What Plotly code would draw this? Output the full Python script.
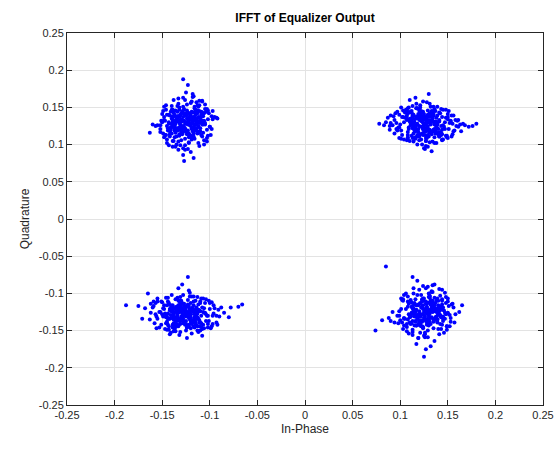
import plotly.graph_objects as go

# Cluster points
tl_x = [-0.125,-0.118,-0.131,-0.122,-0.136,-0.113,-0.127,-0.140,-0.109,-0.120,
-0.133,-0.116,-0.129,-0.124,-0.145,-0.105,-0.138,-0.111,-0.126,-0.119,
-0.132,-0.121,-0.128,-0.115,-0.142,-0.102,-0.135,-0.123,-0.130,-0.117,
-0.150,-0.098,-0.126,-0.139,-0.112,-0.124,-0.134,-0.107,-0.121,-0.146,
-0.128,-0.114,-0.137,-0.119,-0.131,-0.110,-0.125,-0.143,-0.104,-0.122,
-0.155,-0.095,-0.129,-0.116,-0.136,-0.120,-0.127,-0.141,-0.108,-0.133,
-0.118,-0.124,-0.148,-0.100,-0.130,-0.113,-0.139,-0.126,-0.121,-0.134,
-0.160,-0.092,-0.123,-0.117,-0.144,-0.106,-0.128,-0.132,-0.111,-0.137,
-0.125,-0.119,-0.152,-0.097,-0.135,-0.114,-0.129,-0.122,-0.140,-0.103,
-0.163,-0.118,-0.131,-0.126,-0.109,-0.147,-0.124,-0.099,-0.138,-0.115,
-0.127,-0.133,-0.120,-0.157,-0.108,-0.130,-0.116,-0.142,-0.123,-0.093,
-0.112,-0.136,-0.128,-0.119,-0.149,-0.105,-0.125,-0.132,-0.117,-0.140,
-0.113,-0.138,-0.111,-0.140,-0.117,-0.134,-0.118,-0.133,
-0.107,-0.142,-0.109,-0.144,-0.115,-0.136,-0.116,-0.135,
-0.122,-0.129,-0.120,-0.127,-0.105,-0.146,-0.106,-0.145,
-0.119,-0.130,-0.110,-0.141,-0.121,-0.112,
-0.139,-0.125,-0.123,-0.126,-0.114,-0.137,-0.124,-0.128,
-0.101,-0.150,-0.102,-0.147,-0.111,-0.140,-0.112,-0.139,
-0.118,-0.131,-0.123,-0.126,-0.115,-0.134,-0.108,-0.143,
-0.097,-0.152,-0.120,-0.131,-0.103,-0.148,-0.116,-0.133,
-0.121,-0.132,-0.117,-0.130,-0.109,-0.142,-0.108,-0.141,
-0.114,-0.135,-0.122,-0.127,-0.113,-0.137,-0.106,-0.145,-0.119,-0.132,
-0.120,-0.131,-0.114,-0.137,-0.116,-0.128,-0.123,-0.135,-0.112,-0.139,
-0.117,-0.132,-0.125,-0.124,-0.111,-0.139,-0.119,-0.131,-0.119,-0.130,
-0.115,-0.136,-0.113,-0.137,-0.122,-0.127,-0.121,-0.128,-0.109,-0.141,
-0.120,-0.129,-0.116,-0.134,-0.116,-0.133,-0.110,-0.140,-0.118,-0.132,
-0.124,-0.126,-0.118,-0.132,-0.107,-0.143,-0.113,-0.137,-0.122,-0.128,
-0.114,-0.136,-0.125,-0.125,-0.121,-0.138,-0.112,-0.129,-0.108,-0.142,
-0.105,-0.146,-0.106,-0.145,-0.102,-0.149,-0.103,-0.148,
-0.111,-0.138,-0.111,-0.139,-0.098,-0.152,-0.118,-0.133,
-0.108,-0.143,-0.103,-0.148,-0.100,-0.151,-0.123,-0.128]
tl_y = [0.128,0.135,0.120,0.142,0.131,0.115,0.148,0.124,0.138,0.110,
0.155,0.126,0.133,0.118,0.140,0.129,0.105,0.145,0.160,0.122,
0.137,0.112,0.151,0.127,0.119,0.134,0.100,0.143,0.125,0.165,
0.130,0.121,0.108,0.147,0.136,0.116,0.152,0.127,0.141,0.113,
0.095,0.132,0.123,0.158,0.139,0.118,0.170,0.128,0.144,0.103,
0.126,0.137,0.114,0.149,0.131,0.090,0.141,0.120,0.130,0.162,
0.109,0.146,0.133,0.124,0.117,0.153,0.138,0.099,0.129,0.144,
0.127,0.135,0.180,0.111,0.122,0.142,0.086,0.150,0.131,0.119,
0.139,0.107,0.126,0.145,0.134,0.157,0.121,0.102,0.128,0.148,
0.116,0.168,0.124,0.093,0.140,0.132,0.154,0.113,0.129,0.146,
0.078,0.122,0.137,0.125,0.159,0.106,0.143,0.118,0.131,0.136,
0.151,0.097,0.188,0.134,0.115,0.127,0.140,0.123,0.082,0.147,
0.142,0.143,0.116,0.115,0.137,0.136,0.118,0.121,
0.138,0.139,0.113,0.119,0.147,0.146,0.108,0.111,
0.133,0.131,0.125,0.123,0.148,0.147,0.106,0.107,
0.144,0.142,0.134,0.123,0.113,0.124,
0.132,0.130,0.127,0.128,0.131,0.126,0.140,0.117,
0.142,0.141,0.112,0.113,0.153,0.152,0.102,0.105,
0.130,0.127,0.135,0.120,0.120,0.138,0.127,0.130,
0.134,0.121,0.156,0.099,0.120,0.137,0.151,0.104,
0.137,0.132,0.123,0.119,0.144,0.111,0.111,0.144,
0.135,0.122,0.115,0.141,0.116,0.140,0.132,0.125,0.110,0.147,
0.139,0.140,0.122,0.123,0.132,0.137,0.119,0.131,0.137,0.136,
0.115,0.114,0.142,0.114,0.129,0.127,0.134,0.122,0.121,0.134,
0.140,0.116,0.118,0.138,0.131,0.132,0.126,0.125,0.133,0.122,
0.112,0.144,0.119,0.119,0.137,0.138,0.122,0.135,0.143,0.112,
0.135,0.122,0.128,0.129,0.116,0.140,0.146,0.110,0.110,0.146,
0.128,0.128,0.139,0.118,0.141,0.132,0.125,0.115,0.143,0.114,
0.154,0.153,0.100,0.102,0.146,0.145,0.109,0.110,
0.159,0.160,0.098,0.097,0.138,0.117,0.164,0.093,
0.158,0.099,0.104,0.151,0.124,0.132,0.094,0.163]

tr_x = [0.125,0.112,0.138,0.119,0.146,0.104,0.131,0.122,0.155,0.097,
0.128,0.116,0.141,0.133,0.109,0.150,0.124,0.092,0.136,0.118,
0.160,0.127,0.114,0.143,0.101,0.130,0.121,0.166,0.108,0.135,
0.126,0.087,0.148,0.117,0.139,0.123,0.153,0.105,0.132,0.113,
0.172,0.129,0.096,0.144,0.120,0.137,0.110,0.158,0.125,0.083,
0.134,0.115,0.147,0.128,0.099,0.141,0.119,0.163,0.106,0.131,
0.122,0.151,0.090,0.139,0.116,0.126,0.176,0.111,0.145,0.124,
0.133,0.078,0.156,0.118,0.137,0.103,0.129,0.149,0.114,0.168,
0.121,0.140,0.094,0.127,0.152,0.108,0.135,0.117,0.161,0.130,
0.085,0.143,0.123,0.112,0.157,0.136,0.100,0.128,0.147,0.119,
0.180,0.126,0.107,0.142,0.132,0.089,0.154,0.115,0.138,0.124,
0.098,0.150,0.120,0.134,0.111,0.164,0.129,0.102,0.145,0.117,
0.139,0.140,0.113,0.112,0.134,0.133,0.115,0.118,
0.135,0.136,0.110,0.116,0.144,0.143,0.105,0.108,
0.130,0.128,0.122,0.120,0.145,0.144,0.103,0.104,
0.141,0.139,0.131,0.120,0.110,0.121,
0.129,0.127,0.124,0.125,0.128,0.123,0.137,0.114,
0.139,0.138,0.109,0.110,0.150,0.149,0.099,0.102,
0.127,0.124,0.132,0.117,0.117,0.135,0.124,0.127,
0.131,0.118,0.153,0.096,0.117,0.134,0.148,0.101,
0.134,0.129,0.120,0.116,0.141,0.108,0.108,0.141,
0.132,0.119,0.112,0.138,0.113,0.137,0.129,0.122,0.107,0.144,
0.130,0.119,0.136,0.113,0.134,0.122,0.127,0.115,0.138,0.111,
0.133,0.118,0.125,0.126,0.139,0.111,0.131,0.119,0.131,0.120,
0.135,0.114,0.137,0.113,0.128,0.123,0.129,0.122,0.141,0.109,
0.130,0.121,0.134,0.116,0.134,0.117,0.140,0.110,0.132,0.118,
0.126,0.124,0.132,0.118,0.143,0.107,0.137,0.113,0.128,0.122,
0.136,0.114,0.125,0.125,0.129,0.112,0.138,0.121,0.142,0.108,
0.151,0.097,0.150,0.099,0.156,0.093,0.155,0.094,
0.143,0.108,0.144,0.107,0.161,0.089,0.135,0.114,
0.148,0.101,0.154,0.095,0.159,0.090,0.127,0.121]
tr_y = [0.127,0.133,0.121,0.138,0.124,0.130,0.116,0.142,0.128,0.119,
0.135,0.110,0.131,0.145,0.123,0.137,0.113,0.126,0.148,0.120,
0.132,0.105,0.139,0.125,0.150,0.118,0.134,0.128,0.108,0.141,
0.122,0.136,0.112,0.155,0.127,0.100,0.131,0.143,0.117,0.152,
0.124,0.138,0.129,0.114,0.146,0.120,0.160,0.133,0.095,0.126,
0.140,0.119,0.130,0.157,0.123,0.111,0.136,0.127,0.147,0.103,
0.132,0.121,0.139,0.115,0.163,0.129,0.125,0.144,0.107,0.134,
0.091,0.128,0.118,0.149,0.131,0.137,0.122,0.110,0.140,0.126,
0.153,0.116,0.133,0.098,0.129,0.142,0.120,0.135,0.124,0.168,
0.130,0.113,0.138,0.145,0.119,0.102,0.127,0.132,0.121,0.141,
0.128,0.094,0.136,0.117,0.151,0.125,0.139,0.109,0.130,0.158,
0.123,0.134,0.106,0.143,0.128,0.118,0.097,0.137,0.126,0.149,
0.139,0.114,0.141,0.112,0.135,0.118,0.134,0.119,
0.145,0.110,0.143,0.108,0.137,0.116,0.136,0.117,
0.130,0.123,0.132,0.125,0.147,0.106,0.146,0.107,
0.133,0.122,0.142,0.111,0.131,0.140,
0.113,0.127,0.129,0.126,0.138,0.115,0.128,0.124,
0.151,0.102,0.150,0.105,0.141,0.112,0.140,0.113,
0.134,0.121,0.129,0.126,0.137,0.118,0.144,0.109,
0.155,0.100,0.132,0.121,0.149,0.104,0.136,0.119,
0.131,0.120,0.135,0.122,0.143,0.110,0.144,0.111,
0.138,0.117,0.130,0.125,0.139,0.115,0.146,0.107,0.133,0.120,
0.138,0.139,0.121,0.122,0.131,0.136,0.118,0.130,0.136,0.135,
0.114,0.113,0.141,0.113,0.128,0.126,0.133,0.121,0.120,0.133,
0.139,0.115,0.117,0.137,0.130,0.131,0.125,0.124,0.132,0.121,
0.111,0.143,0.118,0.118,0.136,0.137,0.121,0.134,0.142,0.111,
0.134,0.121,0.127,0.128,0.115,0.139,0.145,0.109,0.109,0.145,
0.127,0.127,0.138,0.117,0.140,0.131,0.124,0.114,0.142,0.113,
0.145,0.144,0.109,0.109,0.139,0.138,0.114,0.115,
0.148,0.149,0.107,0.106,0.133,0.120,0.151,0.104,
0.147,0.108,0.111,0.142,0.125,0.129,0.105,0.150]

bl_x = [-0.127,-0.140,-0.114,-0.133,-0.120,-0.152,-0.103,-0.129,-0.145,-0.110,
-0.136,-0.124,-0.160,-0.096,-0.131,-0.118,-0.142,-0.107,-0.126,-0.148,
-0.113,-0.138,-0.122,-0.168,-0.090,-0.134,-0.117,-0.150,-0.101,-0.129,
-0.143,-0.111,-0.125,-0.156,-0.098,-0.137,-0.121,-0.132,-0.106,-0.146,
-0.119,-0.175,-0.085,-0.128,-0.141,-0.115,-0.135,-0.102,-0.153,-0.123,
-0.130,-0.109,-0.147,-0.126,-0.093,-0.139,-0.116,-0.162,-0.131,-0.104,
-0.122,-0.144,-0.112,-0.136,-0.078,-0.128,-0.151,-0.119,-0.133,-0.099,
-0.188,-0.125,-0.140,-0.108,-0.157,-0.121,-0.130,-0.095,-0.146,-0.117,
-0.134,-0.070,-0.127,-0.165,-0.113,-0.138,-0.124,-0.100,-0.149,-0.132,
-0.118,-0.143,-0.106,-0.129,-0.171,-0.088,-0.135,-0.120,-0.155,-0.111,
-0.126,-0.142,-0.097,-0.131,-0.116,-0.148,-0.123,-0.080,-0.137,-0.105,
-0.159,-0.128,-0.114,-0.145,-0.133,-0.092,-0.122,-0.139,-0.110,-0.066,
-0.139,-0.114,-0.141,-0.112,-0.135,-0.118,-0.134,-0.119,
-0.145,-0.110,-0.143,-0.108,-0.137,-0.116,-0.136,-0.117,
-0.130,-0.123,-0.132,-0.125,-0.147,-0.106,-0.146,-0.107,
-0.133,-0.122,-0.142,-0.111,-0.131,-0.140,
-0.113,-0.127,-0.129,-0.126,-0.138,-0.115,-0.128,-0.124,
-0.151,-0.102,-0.150,-0.105,-0.141,-0.112,-0.140,-0.113,
-0.134,-0.121,-0.129,-0.126,-0.137,-0.118,-0.144,-0.109,
-0.155,-0.100,-0.132,-0.121,-0.149,-0.104,-0.136,-0.119,
-0.131,-0.120,-0.135,-0.122,-0.143,-0.110,-0.144,-0.111,
-0.138,-0.117,-0.130,-0.125,-0.139,-0.115,-0.146,-0.107,-0.133,-0.120,
-0.122,-0.133,-0.116,-0.139,-0.118,-0.130,-0.125,-0.137,-0.114,-0.141,
-0.119,-0.134,-0.127,-0.126,-0.113,-0.141,-0.121,-0.133,-0.121,-0.132,
-0.117,-0.138,-0.115,-0.139,-0.124,-0.129,-0.123,-0.130,-0.111,-0.143,
-0.122,-0.131,-0.118,-0.136,-0.118,-0.135,-0.112,-0.142,-0.120,-0.134,
-0.126,-0.128,-0.120,-0.134,-0.109,-0.145,-0.115,-0.139,-0.124,-0.130,
-0.116,-0.138,-0.127,-0.127,-0.123,-0.140,-0.114,-0.131,-0.110,-0.144,
-0.101,-0.155,-0.102,-0.153,-0.096,-0.159,-0.097,-0.158,
-0.109,-0.144,-0.108,-0.145,-0.091,-0.163,-0.117,-0.138,
-0.104,-0.156,-0.098,-0.157,-0.093,-0.162,-0.125,-0.131]
bl_y = [-0.128,-0.121,-0.134,-0.118,-0.138,-0.125,-0.130,-0.113,-0.140,-0.124,
-0.132,-0.146,-0.119,-0.127,-0.110,-0.136,-0.123,-0.142,-0.129,-0.116,
-0.150,-0.126,-0.133,-0.120,-0.131,-0.106,-0.144,-0.128,-0.137,-0.122,
-0.115,-0.139,-0.127,-0.131,-0.112,-0.148,-0.124,-0.135,-0.120,-0.129,
-0.154,-0.117,-0.126,-0.102,-0.133,-0.141,-0.121,-0.130,-0.125,-0.109,
-0.136,-0.145,-0.127,-0.118,-0.139,-0.124,-0.132,-0.114,-0.152,-0.128,
-0.096,-0.134,-0.122,-0.143,-0.119,-0.130,-0.111,-0.138,-0.126,-0.147,
-0.116,-0.131,-0.123,-0.157,-0.128,-0.104,-0.135,-0.120,-0.140,-0.125,
-0.133,-0.118,-0.129,-0.100,-0.144,-0.127,-0.160,-0.113,-0.131,-0.137,
-0.122,-0.149,-0.126,-0.088,-0.134,-0.119,-0.141,-0.128,-0.107,-0.136,
-0.124,-0.155,-0.130,-0.115,-0.139,-0.121,-0.078,-0.132,-0.146,-0.126,
-0.111,-0.137,-0.123,-0.131,-0.093,-0.142,-0.127,-0.119,-0.150,-0.115,
-0.142,-0.143,-0.116,-0.115,-0.137,-0.136,-0.118,-0.121,
-0.138,-0.139,-0.113,-0.119,-0.147,-0.146,-0.108,-0.111,
-0.133,-0.131,-0.125,-0.123,-0.148,-0.147,-0.106,-0.107,
-0.144,-0.142,-0.134,-0.123,-0.113,-0.124,
-0.132,-0.130,-0.127,-0.128,-0.131,-0.126,-0.140,-0.117,
-0.142,-0.141,-0.112,-0.113,-0.153,-0.152,-0.102,-0.105,
-0.130,-0.127,-0.135,-0.120,-0.120,-0.138,-0.127,-0.130,
-0.134,-0.121,-0.156,-0.099,-0.120,-0.137,-0.151,-0.104,
-0.137,-0.132,-0.123,-0.119,-0.144,-0.111,-0.111,-0.144,
-0.135,-0.122,-0.115,-0.141,-0.116,-0.140,-0.132,-0.125,-0.110,-0.147,
-0.117,-0.116,-0.134,-0.133,-0.124,-0.119,-0.137,-0.125,-0.119,-0.120,
-0.141,-0.142,-0.114,-0.142,-0.127,-0.129,-0.122,-0.134,-0.135,-0.122,
-0.116,-0.140,-0.138,-0.118,-0.125,-0.124,-0.130,-0.131,-0.123,-0.134,
-0.144,-0.112,-0.137,-0.137,-0.119,-0.118,-0.134,-0.121,-0.113,-0.144,
-0.121,-0.134,-0.128,-0.127,-0.140,-0.116,-0.110,-0.146,-0.146,-0.110,
-0.128,-0.128,-0.117,-0.138,-0.115,-0.124,-0.131,-0.141,-0.113,-0.142,
-0.110,-0.111,-0.146,-0.146,-0.116,-0.117,-0.141,-0.140,
-0.107,-0.106,-0.148,-0.149,-0.122,-0.135,-0.104,-0.151,
-0.108,-0.147,-0.144,-0.113,-0.130,-0.126,-0.150,-0.105]

br_x = [0.127,0.120,0.134,0.115,0.140,0.124,0.131,0.109,0.145,0.118,
0.129,0.137,0.112,0.123,0.150,0.104,0.133,0.126,0.141,0.116,
0.121,0.155,0.099,0.130,0.119,0.138,0.110,0.127,0.147,0.124,
0.135,0.094,0.128,0.113,0.143,0.122,0.158,0.107,0.132,0.117,
0.126,0.139,0.102,0.129,0.152,0.114,0.136,0.121,0.090,0.133,
0.125,0.146,0.111,0.130,0.119,0.162,0.128,0.105,0.140,0.123,
0.085,0.131,0.116,0.144,0.127,0.097,0.134,0.120,0.153,0.112,
0.129,0.138,0.108,0.124,0.148,0.118,0.081,0.132,0.126,0.142,
0.115,0.136,0.101,0.128,0.157,0.121,0.110,0.139,0.125,0.092,
0.133,0.117,0.145,0.130,0.074,0.124,0.137,0.113,0.150,0.127,
0.106,0.141,0.122,0.165,0.119,0.131,0.098,0.135,0.126,0.088,
0.143,0.114,0.129,0.123,0.134,0.103,0.148,0.120,0.132,0.128,
0.113,0.112,0.139,0.140,0.118,0.119,0.137,0.134,
0.117,0.116,0.142,0.136,0.108,0.109,0.147,0.144,
0.122,0.124,0.130,0.132,0.107,0.108,0.149,0.148,
0.111,0.113,0.121,0.132,0.142,0.131,
0.123,0.125,0.128,0.127,0.124,0.129,0.115,0.138,
0.113,0.114,0.143,0.142,0.102,0.103,0.153,0.150,
0.125,0.128,0.120,0.135,0.135,0.117,0.128,0.125,
0.121,0.134,0.099,0.156,0.135,0.118,0.104,0.151,
0.118,0.123,0.132,0.136,0.111,0.144,0.144,0.111,
0.120,0.133,0.140,0.114,0.139,0.115,0.123,0.130,0.145,0.108,
0.132,0.121,0.138,0.115,0.136,0.124,0.129,0.117,0.140,0.113,
0.135,0.120,0.127,0.128,0.141,0.113,0.133,0.121,0.133,0.122,
0.137,0.116,0.139,0.115,0.130,0.125,0.131,0.124,0.143,0.111,
0.132,0.123,0.136,0.118,0.136,0.119,0.142,0.112,0.134,0.120,
0.128,0.126,0.134,0.120,0.145,0.109,0.139,0.115,0.130,0.124,
0.138,0.116,0.127,0.127,0.131,0.114,0.140,0.123,0.144,0.110,
0.147,0.106,0.146,0.107,0.150,0.103,0.149,0.104,
0.141,0.114,0.141,0.113,0.154,0.100,0.134,0.119,
0.144,0.109,0.149,0.104,0.152,0.101,0.129,0.124]
br_y = [-0.125,-0.138,-0.112,-0.131,-0.119,-0.145,-0.104,-0.128,-0.134,-0.116,
-0.150,-0.122,-0.140,-0.108,-0.127,-0.133,-0.098,-0.155,-0.120,-0.129,
-0.143,-0.114,-0.124,-0.136,-0.160,-0.110,-0.130,-0.093,-0.126,-0.147,
-0.118,-0.139,-0.121,-0.152,-0.132,-0.102,-0.128,-0.141,-0.115,-0.168,
-0.124,-0.135,-0.109,-0.126,-0.144,-0.120,-0.088,-0.131,-0.137,-0.117,
-0.157,-0.123,-0.129,-0.100,-0.142,-0.125,-0.113,-0.134,-0.148,-0.119,
-0.064,-0.106,-0.138,-0.122,-0.175,-0.130,-0.116,-0.095,-0.133,-0.126,
-0.140,-0.121,-0.111,-0.146,-0.128,-0.083,-0.136,-0.124,-0.153,-0.118,
-0.130,-0.164,-0.107,-0.127,-0.139,-0.114,-0.132,-0.122,-0.185,-0.125,
-0.097,-0.143,-0.119,-0.129,-0.150,-0.110,-0.135,-0.078,-0.126,-0.137,
-0.121,-0.128,-0.144,-0.116,-0.131,-0.103,-0.140,-0.124,-0.159,-0.133,
-0.118,-0.127,-0.091,-0.136,-0.122,-0.148,-0.113,-0.130,-0.171,-0.126,
-0.137,-0.112,-0.139,-0.110,-0.133,-0.116,-0.132,-0.117,
-0.143,-0.108,-0.141,-0.106,-0.135,-0.114,-0.134,-0.115,
-0.128,-0.121,-0.130,-0.123,-0.145,-0.104,-0.144,-0.105,
-0.131,-0.120,-0.140,-0.109,-0.129,-0.138,
-0.111,-0.125,-0.127,-0.124,-0.136,-0.113,-0.126,-0.122,
-0.149,-0.100,-0.148,-0.103,-0.139,-0.110,-0.138,-0.111,
-0.132,-0.119,-0.127,-0.124,-0.135,-0.116,-0.142,-0.107,
-0.153,-0.098,-0.130,-0.119,-0.147,-0.102,-0.134,-0.117,
-0.129,-0.118,-0.133,-0.120,-0.141,-0.108,-0.142,-0.109,
-0.136,-0.115,-0.128,-0.123,-0.137,-0.113,-0.144,-0.105,-0.131,-0.118,
-0.114,-0.113,-0.131,-0.130,-0.121,-0.116,-0.134,-0.122,-0.116,-0.117,
-0.138,-0.139,-0.111,-0.139,-0.124,-0.126,-0.119,-0.131,-0.132,-0.119,
-0.113,-0.137,-0.135,-0.115,-0.122,-0.121,-0.127,-0.128,-0.120,-0.131,
-0.141,-0.109,-0.134,-0.134,-0.116,-0.115,-0.131,-0.118,-0.110,-0.141,
-0.118,-0.131,-0.125,-0.124,-0.137,-0.113,-0.107,-0.143,-0.143,-0.107,
-0.125,-0.125,-0.114,-0.135,-0.112,-0.121,-0.128,-0.138,-0.110,-0.139,
-0.099,-0.100,-0.153,-0.151,-0.107,-0.108,-0.144,-0.143,
-0.094,-0.093,-0.155,-0.156,-0.115,-0.136,-0.089,-0.160,
-0.095,-0.154,-0.149,-0.102,-0.129,-0.121,-0.159,-0.090]

tick_vals = [-0.25,-0.2,-0.15,-0.1,-0.05,0,0.05,0.1,0.15,0.2,0.25]
tick_text = ["-0.25","-0.2","-0.15","-0.1","-0.05","0","0.05","0.1","0.15","0.2","0.25"]

xs = tl_x + tr_x + bl_x + br_x
ys = tl_y + tr_y + bl_y + br_y

fig = go.Figure()
fig.add_trace(go.Scatter(x=xs, y=ys, mode="markers",
                         marker=dict(color="#0000ff", size=4, line=dict(width=0)),
                         showlegend=False, cliponaxis=False))

axis_common = dict(range=[-0.25, 0.25], tickvals=tick_vals, ticktext=tick_text,
                   showgrid=True, gridcolor="#e3e3e3", gridwidth=1,
                   zeroline=False, showline=True, linecolor="#262626", linewidth=1,
                   mirror="ticks", ticks="inside", ticklen=5, tickcolor="#262626",
                   automargin=False,
                   tickfont=dict(family="Liberation Sans, Arial", size=11, color="#262626"))

fig.update_layout(
    width=556, height=449, autosize=False,
    margin=dict(l=67, r=13, t=33, b=44, autoexpand=False),
    paper_bgcolor="white", plot_bgcolor="white",
    title=dict(text="<b>IFFT of Equalizer Output</b>", x=305/556, xanchor="center",
               y=1 - 18/449, yanchor="middle",
               font=dict(family="Liberation Sans, Arial", size=12, color="#000000")),
    xaxis=dict(**axis_common, title=dict(text="In-Phase", standoff=4,
               font=dict(family="Liberation Sans, Arial", size=12, color="#262626"))),
    yaxis=dict(**axis_common, title=dict(text="Quadrature", standoff=6,
               font=dict(family="Liberation Sans, Arial", size=12, color="#262626"))),
)

fig.write_html("out.html", config={"responsive": False})
